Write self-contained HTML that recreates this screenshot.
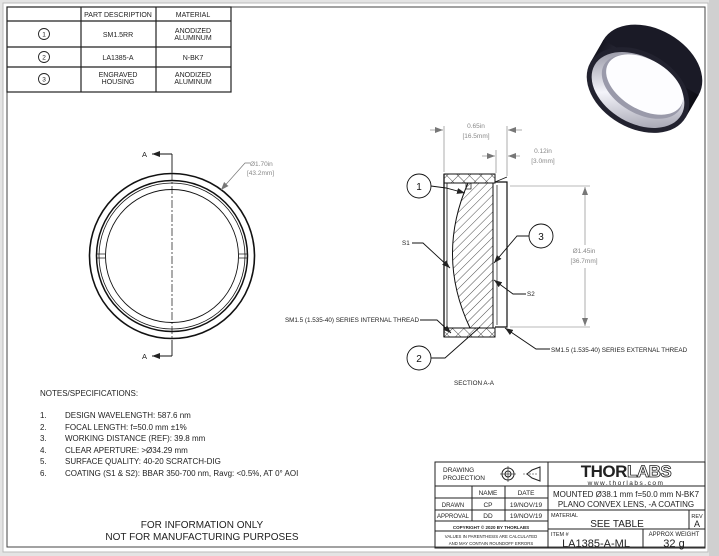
<!DOCTYPE html>
<html><head><meta charset="utf-8"><style>
html,body{margin:0;padding:0;background:#e4e4e4;}
svg{display:block;font-family:"Liberation Sans",sans-serif;}
</style></head><body>
<svg width="719" height="556" viewBox="0 0 719 556" xmlns="http://www.w3.org/2000/svg">
<defs>
<pattern id="h" width="6" height="6" patternUnits="userSpaceOnUse" patternTransform="rotate(45)"><line x1="0" y1="0" x2="0" y2="6" stroke="#222" stroke-width="0.8"/></pattern>
<pattern id="x" width="8" height="8" patternUnits="userSpaceOnUse" patternTransform="rotate(45)"><line x1="0" y1="0" x2="0" y2="8" stroke="#222" stroke-width="0.8"/><line x1="0" y1="0" x2="8" y2="0" stroke="#222" stroke-width="0.8"/></pattern>
<linearGradient id="ring" x1="0" y1="0" x2="1" y2="0"><stop offset="0" stop-color="#15151f"/><stop offset="0.45" stop-color="#4a4a60"/><stop offset="0.6" stop-color="#2a2a3a"/><stop offset="1" stop-color="#0c0c14"/></linearGradient>
<linearGradient id="ins" x1="0" y1="0" x2="1" y2="1"><stop offset="0" stop-color="#7a7a8a"/><stop offset="0.5" stop-color="#f4f4fa"/><stop offset="1" stop-color="#8a8a9a"/></linearGradient>
<marker id="ar" markerWidth="8" markerHeight="6" refX="8" refY="3" orient="auto" markerUnits="userSpaceOnUse"><path d="M0,0 L8,3 L0,6z" fill="#222"/></marker>
<marker id="ag" markerWidth="8" markerHeight="6" refX="8" refY="3" orient="auto" markerUnits="userSpaceOnUse"><path d="M0,0 L8,3 L0,6z" fill="#777"/></marker>
</defs>
<rect x="3" y="3" width="705" height="549" fill="#fff" stroke="#bbb"/>
<rect x="7" y="7" width="698" height="540" fill="none" stroke="#444" stroke-width="1"/>
<rect x="709" y="0" width="10" height="556" fill="#d0d0d0"/>

<!-- parts table -->
<g stroke="#222" stroke-width="1.2" fill="none">
<rect x="7" y="7" width="224" height="85"/>
<line x1="81" y1="7" x2="81" y2="92"/><line x1="156" y1="7" x2="156" y2="92"/>
<line x1="7" y1="21" x2="231" y2="21"/><line x1="7" y1="47" x2="231" y2="47"/><line x1="7" y1="67" x2="231" y2="67"/>
<circle cx="44" cy="34" r="5.5" stroke-width="0.9"/><circle cx="44" cy="57" r="5.5" stroke-width="0.9"/><circle cx="44" cy="79" r="5.5" stroke-width="0.9"/>
</g>
<g font-size="7" fill="#222" text-anchor="middle">
<text x="118" y="17">PART DESCRIPTION</text><text x="193" y="17">MATERIAL</text>
<text x="44" y="36.5" font-size="6.5">1</text><text x="44" y="59.5" font-size="6.5">2</text><text x="44" y="81.5" font-size="6.5">3</text>
<text x="118" y="37">SM1.5RR</text><text x="193" y="33">ANODIZED</text><text x="193" y="40">ALUMINUM</text>
<text x="118" y="60">LA1385-A</text><text x="193" y="60">N-BK7</text>
<text x="118" y="77">ENGRAVED</text><text x="118" y="84">HOUSING</text><text x="193" y="77">ANODIZED</text><text x="193" y="84">ALUMINUM</text>
</g>

<!-- photo -->
<g transform="translate(638,90) rotate(30)">
<ellipse cx="0" cy="-26" rx="55" ry="38" fill="#1a1a26"/>
<rect x="-55" y="-26" width="110" height="26" fill="url(#ring)"/>
<ellipse cx="0" cy="0" rx="55" ry="38" fill="#22222f"/>
<ellipse cx="0" cy="0" rx="50" ry="33" fill="url(#ins)"/>
<ellipse cx="2" cy="-5" rx="44" ry="27" fill="#9a9aaa"/>
<ellipse cx="3" cy="-8" rx="42" ry="25" fill="#fdfdff"/>
</g>

<!-- front view -->
<g fill="none" stroke="#111">
<circle cx="172" cy="256" r="82.5" stroke-width="1.6"/>
<circle cx="172" cy="256" r="75.5" stroke-width="1.5"/>
<circle cx="172" cy="256" r="73" stroke-width="0.8"/>
<circle cx="172" cy="256" r="66.5" stroke-width="0.9"/>
<line x1="97" y1="254" x2="105" y2="254" stroke-width="0.7"/><line x1="97" y1="258" x2="105" y2="258" stroke-width="0.7"/>
<line x1="239" y1="254" x2="247" y2="254" stroke-width="0.7"/><line x1="239" y1="258" x2="247" y2="258" stroke-width="0.7"/>
<line x1="172" y1="172" x2="172" y2="340" stroke-width="0.7" stroke-dasharray="8,2,2,2"/>
<line x1="172" y1="154" x2="172" y2="172" stroke-width="0.9"/><line x1="172" y1="340" x2="172" y2="356" stroke-width="0.9"/>
<line x1="172" y1="154" x2="152" y2="154" stroke-width="1" marker-end="url(#ar)"/>
<line x1="172" y1="356" x2="152" y2="356" stroke-width="1" marker-end="url(#ar)"/>
<polyline points="250,163 245,163 221,190" stroke="#777" stroke-width="0.7" marker-end="url(#ag)"/>
</g>
<text x="142" y="157" font-size="7.5" fill="#222">A</text>
<text x="142" y="359" font-size="7.5" fill="#222">A</text>
<text x="250" y="166" font-size="6.5" fill="#888">Ø1.70in</text>
<text x="247" y="175" font-size="6.5" fill="#888">[43.2mm]</text>

<!-- section view -->
<g stroke="#111" stroke-width="1" fill="none">
<rect x="444" y="174" width="51" height="9" fill="url(#x)"/>
<rect x="444" y="328" width="51" height="9" fill="url(#x)"/>
<line x1="444" y1="174" x2="444" y2="337" stroke-width="1.3"/>
<line x1="447" y1="183" x2="447" y2="328" stroke-width="0.8"/>
<path d="M468,183 Q436,256 470,328 L493,328 L493,183 Z" fill="url(#h)" stroke-width="1"/>
<rect x="466" y="183" width="5" height="6" stroke-width="0.7"/>
<polyline points="495,182 507,182 507,327 495,327" stroke-width="1.2"/>
<line x1="497" y1="185" x2="497" y2="325" stroke-width="0.7"/>
<line x1="495" y1="182" x2="507" y2="177" stroke-width="0.7"/>
</g>
<!-- dimensions -->
<g stroke="#777" stroke-width="0.6" fill="none">
<line x1="444" y1="126" x2="444" y2="172"/><line x1="507" y1="126" x2="507" y2="176"/>
<line x1="430" y1="130" x2="443" y2="130" marker-end="url(#ag)"/><line x1="522" y1="130" x2="508" y2="130" marker-end="url(#ag)"/>
<line x1="496" y1="150" x2="496" y2="173"/>
<line x1="482" y1="156" x2="495" y2="156" marker-end="url(#ag)"/><line x1="520" y1="156" x2="508" y2="156" marker-end="url(#ag)"/>
<line x1="510" y1="186" x2="590" y2="186"/><line x1="510" y1="327" x2="590" y2="327"/>
<line x1="585" y1="245" x2="585" y2="187" marker-end="url(#ag)"/><line x1="585" y1="268" x2="585" y2="326" marker-end="url(#ag)"/>
</g>
<g font-size="6.5" fill="#888" text-anchor="middle">
<text x="476" y="128">0.65in</text><text x="476" y="138">[16.5mm]</text>
<text x="543" y="153">0.12in</text><text x="543" y="163">[3.0mm]</text>
<text x="584" y="253">Ø1.45in</text><text x="584" y="263">[36.7mm]</text>
</g>
<!-- balloons and leaders -->
<g stroke="#111" stroke-width="0.9" fill="none">
<circle cx="419" cy="186" r="12" fill="#fff"/><circle cx="419" cy="358" r="12" fill="#fff"/><circle cx="541" cy="236" r="12" fill="#fff"/>
<polyline points="431,186 446,188 465,193" marker-end="url(#ar)"/>
<polyline points="529,236 517,236 494,263" marker-end="url(#ar)"/>
<polyline points="412,243 423,243 450,268" marker-end="url(#ar)"/>
<polyline points="526,294 513,294 494,280" marker-end="url(#ar)"/>
<polyline points="420,320 437,320 451,333" marker-end="url(#ar)"/>
<polyline points="550,349 536,349 505,328" marker-end="url(#ar)"/>
<polyline points="431,358 445,358 480,327"/>
</g>
<g font-size="10" fill="#111" text-anchor="middle"><text x="419" y="190">1</text><text x="419" y="362">2</text><text x="541" y="240">3</text></g>
<g font-size="6.3" fill="#222">
<text x="402" y="245">S1</text><text x="527" y="296">S2</text>
<text x="419" y="322" text-anchor="end">SM1.5 (1.535-40) SERIES INTERNAL THREAD</text>
<text x="551" y="352">SM1.5 (1.535-40) SERIES EXTERNAL THREAD</text>
<text x="474" y="385" text-anchor="middle">SECTION A-A</text>
</g>

<!-- notes -->
<g font-size="8" fill="#222">
<text x="40" y="396">NOTES/SPECIFICATIONS:</text>
<text x="40" y="418">1.</text><text x="65" y="418">DESIGN WAVELENGTH: 587.6 nm</text>
<text x="40" y="430">2.</text><text x="65" y="430">FOCAL LENGTH: f=50.0 mm ±1%</text>
<text x="40" y="441">3.</text><text x="65" y="441">WORKING DISTANCE (REF): 39.8 mm</text>
<text x="40" y="453">4.</text><text x="65" y="453">CLEAR APERTURE: &gt;Ø34.29 mm</text>
<text x="40" y="464">5.</text><text x="65" y="464">SURFACE QUALITY: 40-20 SCRATCH-DIG</text>
<text x="40" y="476">6.</text><text x="65" y="476">COATING (S1 &amp; S2): BBAR 350-700 nm, Ravg: &lt;0.5%, AT 0° AOI</text>
</g>
<g font-size="10" fill="#222" text-anchor="middle">
<text x="202" y="528">FOR INFORMATION ONLY</text>
<text x="202" y="540">NOT FOR MANUFACTURING PURPOSES</text>
</g>

<!-- title block -->
<g stroke="#222" stroke-width="1" fill="none">
<rect x="435" y="462" width="270" height="86"/>
<line x1="548" y1="462" x2="548" y2="548"/>
<line x1="435" y1="486" x2="705" y2="486"/>
<line x1="435" y1="498" x2="548" y2="498"/>
<line x1="435" y1="510" x2="705" y2="510"/>
<line x1="435" y1="521" x2="548" y2="521"/>
<line x1="435" y1="531" x2="548" y2="531"/>
<line x1="548" y1="529" x2="705" y2="529"/>
<line x1="472" y1="486" x2="472" y2="521"/><line x1="505" y1="486" x2="505" y2="521"/>
<line x1="689" y1="510" x2="689" y2="529"/><line x1="643" y1="529" x2="643" y2="548"/>
<circle cx="508" cy="474" r="6"/><circle cx="508" cy="474" r="3"/>
<line x1="500" y1="474" x2="516" y2="474" stroke-width="0.6"/><line x1="508" y1="466" x2="508" y2="482" stroke-width="0.6"/>
<path d="M527,474 L532,470 L540,467 L540,481 L532,478 Z"/>
<line x1="523" y1="474" x2="537" y2="474" stroke-width="0.5" stroke-dasharray="2,1"/>
</g>
<g fill="#222">
<text x="443" y="472" font-size="6.5">DRAWING</text><text x="443" y="480" font-size="6.5">PROJECTION</text>
<g font-size="6.5" text-anchor="middle">
<text x="488" y="495">NAME</text><text x="526" y="495">DATE</text>
<text x="453" y="507" font-size="6">DRAWN</text><text x="488" y="507">CP</text><text x="526" y="507">19/NOV/19</text>
<text x="453" y="518" font-size="6">APPROVAL</text><text x="488" y="518">DD</text><text x="526" y="518">19/NOV/19</text>
<text x="491" y="529" font-size="4.5" font-weight="bold">COPYRIGHT © 2020 BY THORLABS</text>
<text x="491" y="538" font-size="4.3">VALUES IN PARENTHESIS ARE CALCULATED</text>
<text x="491" y="545" font-size="4.3">AND MAY CONTAIN ROUNDOFF ERRORS</text>
</g>
<text x="626" y="477" font-size="17" font-weight="bold" text-anchor="middle" letter-spacing="-0.5">THOR<tspan fill="#fff" stroke="#222" stroke-width="0.8">LABS</tspan></text>
<text x="626" y="485" font-size="6.5" text-anchor="middle" letter-spacing="1.5">www.thorlabs.com</text>
<text x="626" y="497" font-size="8" text-anchor="middle">MOUNTED Ø38.1 mm f=50.0 mm N-BK7</text>
<text x="626" y="507" font-size="8" text-anchor="middle">PLANO CONVEX LENS, -A COATING</text>
<text x="551" y="517" font-size="5.5">MATERIAL</text>
<text x="617" y="527" font-size="10" text-anchor="middle">SEE TABLE</text>
<text x="697" y="518" font-size="5.5" text-anchor="middle">REV</text>
<text x="697" y="527" font-size="9" text-anchor="middle">A</text>
<text x="551" y="536" font-size="5.5">ITEM #</text>
<text x="596" y="547" font-size="11" text-anchor="middle">LA1385-A-ML</text>
<text x="674" y="536" font-size="6" text-anchor="middle">APPROX WEIGHT</text>
<text x="674" y="547" font-size="11" text-anchor="middle">32 g</text>
</g>
</svg>
</body></html>
